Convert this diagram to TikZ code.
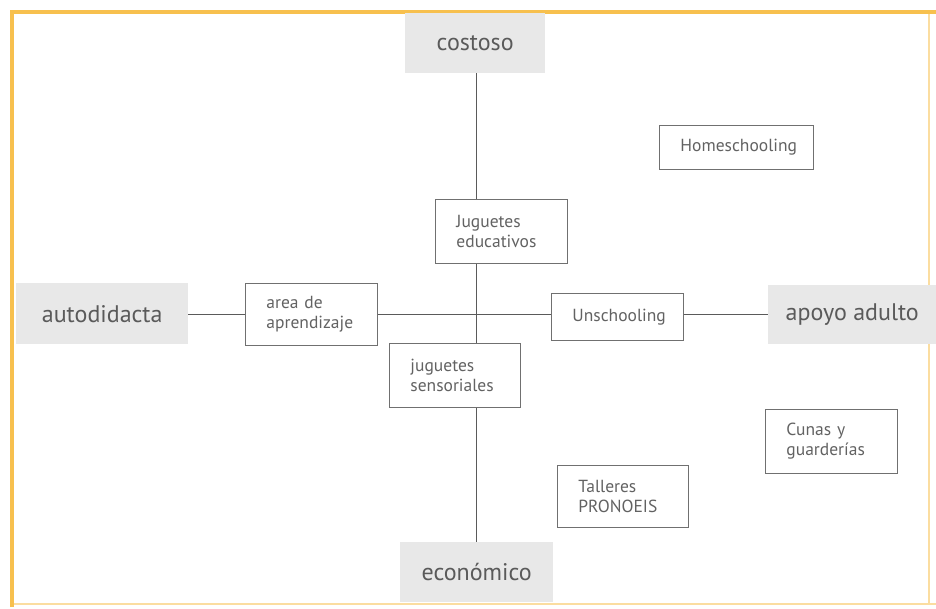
\documentclass[tikz,border=0pt]{standalone}
\usepackage{fontspec}
\setmainfont{PT Sans}
\definecolor{frameorange}{HTML}{F7C04E}
\definecolor{framelight}{HTML}{FBDDA0}
\definecolor{axisgray}{HTML}{E8E8E8}
\definecolor{labelgray}{HTML}{5A5A5A}
\definecolor{itemgray}{HTML}{626262}
\definecolor{boxline}{HTML}{707070}
\begin{document}
\begin{tikzpicture}[x=1pt,y=-1pt,
  axislabel/.style={fill=axisgray, text=labelgray, font=\fontsize{24}{28}\selectfont,
    inner sep=0pt, anchor=north west},
  itembox/.style={draw=boxline, line width=0.9pt, text=itemgray,
    font=\fontsize{17.5}{20}\selectfont, align=left, inner xsep=21pt, inner ysep=0pt,
    anchor=north west},
  link/.style={draw=labelgray, line width=0.9pt}]
  \useasboundingbox (0,0) rectangle (936,609);
  % frame
  \draw[framelight, line width=1.2pt] (929,12) -- (929,604);
  \draw[framelight, line width=2pt] (12,604) -- (936,604);
  \draw[frameorange, line width=4pt] (12,607) -- (12,12) -- (936,12);

  % axis ends
  \node[axislabel, minimum width=140pt, minimum height=60pt] (costoso) at (405,13) {costoso};
  \node[axislabel, minimum width=153pt, minimum height=60pt] (economico) at (400,542) {económico};
  \node[axislabel, minimum width=172pt, minimum height=61pt] (auto) at (16,283) {autodidacta};
  \node[axislabel, minimum width=168pt, minimum height=59pt] (apoyo) at (768,285) {apoyo adulto};

  % crossing point of the two axes
  \coordinate (ctr) at (476,314);

  % items
  \node[itembox, text width=90pt, minimum height=64pt] (edu) at (435,199) {Juguetes\\educativos};
  \node[itembox, text width=89pt, minimum height=64pt] (sens) at (389,343) {juguetes\\sensoriales};
  \node[itembox, text width=90pt, minimum height=62pt] (area) at (245,283) {area de\\aprendizaje};
  \node[itembox, text width=90pt, minimum height=47pt] (unsch) at (551,293) {Unschooling};
  \node[itembox, text width=112pt, minimum height=44pt] (home) at (659,125) {\makebox[112pt][l]{Homeschooling}};
  \node[itembox, text width=90pt, minimum height=64pt] (cunas) at (765,409) {Cunas y\\guarderías};
  \node[itembox, text width=89pt, minimum height=62pt] (talleres) at (557,465) {Talleres\\PRONOEIS};

  % vertical axis
  \draw[link] (costoso.south -| ctr) -- (edu.north -| ctr);
  \draw[link] (edu.south -| ctr) -- (sens.north -| ctr);
  \draw[link] (sens.south -| ctr) -- (economico.north -| ctr);
  % horizontal axis
  \draw[link] (auto.east |- ctr) -- (area.west |- ctr);
  \draw[link] (area.east |- ctr) -- (unsch.west |- ctr);
  \draw[link] (unsch.east |- ctr) -- (apoyo.west |- ctr);
\end{tikzpicture}
\end{document}
